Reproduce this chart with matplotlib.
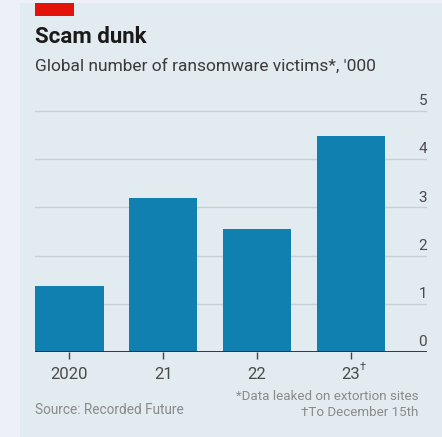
import matplotlib.pyplot as plt
from matplotlib.patches import Rectangle

# %% Data.
years = ['2020', '21', '22', '23']
victims = [1.37, 3.2, 2.55, 4.48]   # '000
yticks = [0, 1, 2, 3, 4, 5]

# %% Style.
plt.rcParams['font.family'] = ['Roboto', 'DejaVu Sans']
bg_out = '#eef0f9'
bg_in = '#e1ebf0'
bar_col = '#0f80b0'
grid_col = '#c6d0d6'
lab_col = '#4a4a4a'

fig = plt.figure(figsize=(4.42, 4.37), dpi=100)
fig.patch.set_facecolor(bg_out)
W, H = 442, 437

# Panel background:
fig.patches.append(Rectangle((20 / W, 0), 1, 1 - 3 / H, transform=fig.transFigure,
                             facecolor=bg_in, edgecolor='none', zorder=-2))
# Red tag:
fig.patches.append(Rectangle((35 / W, 1 - 16 / H), 39 / W, 13 / H,
                             transform=fig.transFigure, facecolor='#e3120b',
                             edgecolor='none', zorder=-1))

# %% Axes.
y0, y5 = 352, 111
ppu = (y0 - y5) / 5.0
ytop = 5.05
ax = fig.add_axes([35 / W, 1 - y0 / H, (427 - 35) / W, ytop * ppu / H])
ax.set_facecolor('none')
x = range(len(years))
ax.bar(x, victims, width=0.73, color=bar_col, zorder=2)
ax.set_xlim(-0.365, 3.81)
ax.set_ylim(0, ytop)

for t in yticks[1:]:
    ax.axhline(t, color=grid_col, lw=1, zorder=1)
for t in yticks:
    ax.text(1.0, t + 0.06, str(t), transform=ax.get_yaxis_transform(),
            ha='right', va='bottom', fontsize=11, color=lab_col)
ax.axhline(0, color='#2a2a2a', lw=1.3, zorder=3)

for s in ax.spines.values():
    s.set_visible(False)
ax.set_yticks([])
ax.set_xticks(list(x))
ax.set_xticklabels(years, fontsize=12, color=lab_col)
ax.tick_params(axis='x', length=5, width=1, color='#444444', pad=5.5)

# Dagger on the last label:
ax.annotate('\u2020', xy=(3, 0), xycoords=('data', 'axes fraction'),
            xytext=(6, -7), textcoords='offset points', fontsize=8,
            color=lab_col, ha='left', va='top')

# %% Titles.
fig.text(35 / W, 1 - 37 / H, 'Scam dunk', fontsize=16, fontweight='bold',
         color='#1a1a1a', va='center')
fig.text(35 / W, 1 - 66 / H, "Global number of ransomware victims*, '000",
         fontsize=12.5, color='#3a3a3a', va='center')

# Footer:
fig.text(35 / W, 1 - 410 / H, 'Source: Recorded Future', fontsize=9.8,
         color='#8a8a8a', va='center')
fig.text(418 / W, 1 - 396 / H, '*Data leaked on extortion sites', fontsize=9.6,
         color='#8a8a8a', va='center', ha='right')
fig.text(418 / W, 1 - 412 / H, '\u2020To December 15th', fontsize=9.6,
         color='#8a8a8a', va='center', ha='right')

fig.savefig('out.png', dpi=100, facecolor=fig.get_facecolor())
